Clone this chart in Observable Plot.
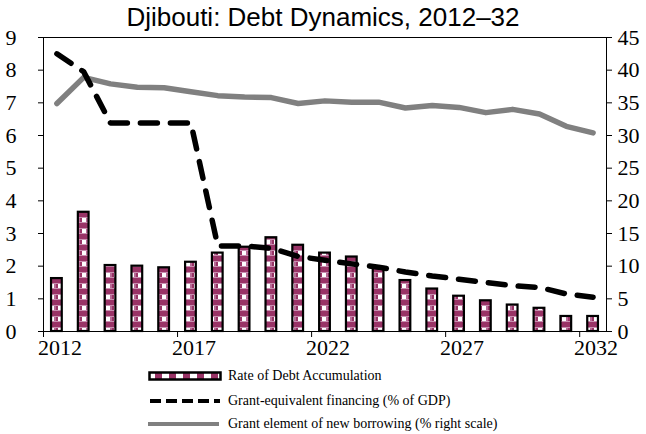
<!DOCTYPE html>
<html>
<head>
<meta charset="utf-8">
<script src="https://cdn.jsdelivr.net/npm/d3@7"></script>
<script src="https://cdn.jsdelivr.net/npm/@observablehq/plot@0.6"></script>
<style>
  html, body { margin: 0; padding: 0; background: #fff; }
  #wrap { position: relative; width: 646px; height: 434px; overflow: hidden; background: #fff; }
  #title { position: absolute; left: 0; top: 2px; width: 646px; text-align: center; z-index: 2;
    font-family: "Liberation Sans", Arial, sans-serif; font-size: 26px; line-height: 30px; color: #000; }
  #chart { position: absolute; left: 0; top: 14px; z-index: 1; }
  #chart svg { background: transparent !important; }
  #chart svg text { font-family: "Liberation Serif", "Times New Roman", serif !important; }
  .leg { position: absolute; left: 148px; font-family: "Liberation Serif", "Times New Roman", serif;
    font-size: 14px; color: #000; display: flex; align-items: center; height: 20px; }
  .leg svg { display: block; margin-right: 6px; }
</style>
</head>
<body>
<div id="wrap">
  <div id="chart"></div>
  <div id="title">Djibouti: Debt Dynamics, 2012–32</div>
  <div class="leg" style="top:366px">
    <svg width="74" height="12"><defs>
      <pattern id="legPat" patternUnits="userSpaceOnUse" width="14" height="12">
        <rect x="0" y="0" width="14" height="12" fill="#fff"/>
        <rect x="7" y="0" width="7" height="12" fill="#993366"/>
      </pattern></defs>
      <rect x="1.5" y="2.5" width="71" height="7" fill="url(#legPat)" stroke="#000" stroke-width="2.5"/>
    </svg>
    <span>Rate of Debt Accumulation</span>
  </div>
  <div class="leg" style="top:391px">
    <svg width="74" height="12"><line x1="2" x2="72" y1="6" y2="6" stroke="#000" stroke-width="4" stroke-dasharray="11,5"/></svg>
    <span>Grant-equivalent financing (% of GDP)</span>
  </div>
  <div class="leg" style="top:414px">
    <svg width="74" height="12"><line x1="0" x2="71" y1="6" y2="6" stroke="#808080" stroke-width="4"/></svg>
    <span>Grant element of new borrowing (% right scale)</span>
  </div>
</div>
<script>
// ---- data ----
const years = [2012,2013,2014,2015,2016,2017,2018,2019,2020,2021,2022,2023,2024,2025,2026,2027,2028,2029,2030,2031,2032];
const debtAccumulation = [1.62,3.65,2.02,2.00,1.95,2.12,2.40,2.58,2.87,2.64,2.40,2.28,1.96,1.56,1.30,1.08,0.94,0.81,0.71,0.46,0.46];
const grantEquivFinancing = [8.50,7.95,6.38,6.38,6.38,6.38,2.62,2.62,2.55,2.30,2.18,2.07,1.97,1.82,1.70,1.60,1.50,1.40,1.35,1.15,1.05];
const grantElement = [34.9,38.9,37.9,37.4,37.3,36.7,36.1,35.9,35.8,34.9,35.3,35.1,35.1,34.2,34.6,34.3,33.5,34.0,33.3,31.4,30.4];
const leftTicks = [0,1,2,3,4,5,6,7,8,9];
const rightScaleFactor = 5; // right axis 0–45 vs left 0–9
const xLabelYears = [2012,2017,2022,2027,2032];

const rows = years.map((y, i) => ({
  year: y,
  debt: debtAccumulation[i],
  gef: grantEquivFinancing[i],
  grant: grantElement[i]
}));
const boundaries = xLabelYears.map(y => y - 0.5);
const halfBar = 0.2;

const font = "Liberation Serif";

const chart = Plot.plot({
  width: 646,
  height: 347,
  marginLeft: 43,
  marginRight: 40,
  marginTop: 23,
  marginBottom: 30,
  style: { fontSize: "22px", color: "#000", background: "transparent" },
  x: { type: "linear", domain: [years[0] - 0.5, years[years.length - 1] + 0.5] },
  y: { domain: [0, 9] },
  marks: [
    Plot.rectY(rows, {
      x1: d => d.year - halfBar, x2: d => d.year + halfBar, y1: 0, y2: "debt",
      fill: "url(#barPat)", stroke: "#000", strokeWidth: 2.2
    }),
    Plot.line(rows, { x: "year", y: d => d.grant / rightScaleFactor, stroke: "#808080", strokeWidth: 5.5, strokeLinejoin: "round", strokeLinecap: "round" }),
    Plot.line(rows, { x: "year", y: "gef", stroke: "#000", strokeWidth: 5.5, strokeDasharray: "17,13", strokeLinecap: "round", strokeLinejoin: "round" }),
    Plot.frame({ stroke: "#000", strokeWidth: 1 }),
    Plot.axisY({ anchor: "left", ticks: leftTicks, tickSize: 5, tickPadding: 22, fontSize: 22, fontFamily: font, label: null, textAnchor: "end" }),
    Plot.axisY({ anchor: "right", ticks: leftTicks, tickFormat: d => String(d * rightScaleFactor), tickSize: 5, tickPadding: 6, fontSize: 22, fontFamily: font, label: null }),
    Plot.axisX({ ticks: xLabelYears, tickSize: 0, tickPadding: 8, tickFormat: d => String(d), fontSize: 22, fontFamily: font, label: null, dx: 3 }),
    Plot.axisX({ ticks: boundaries, tickSize: 6, tickFormat: () => "", label: null })
  ]
});

// pattern for bars
const svgNode = chart.tagName.toLowerCase() === "svg" ? chart : chart.querySelector("svg");
const svg = d3.select(svgNode);
svg.selectAll("text").style("font-family", "'Liberation Serif', 'Times New Roman', serif");
const defs = svg.insert("defs", ":first-child");
const pat = defs.append("pattern").attr("id", "barPat").attr("patternUnits", "userSpaceOnUse")
  .attr("width", 8).attr("height", 11);
pat.append("rect").attr("width", 8).attr("height", 11).attr("fill", "#fff");
pat.append("rect").attr("y", 0).attr("width", 8).attr("height", 5).attr("fill", "#993366");
pat.append("rect").attr("y", 5).attr("width", 8).attr("height", 1).attr("fill", "#c98fb0");
pat.append("rect").attr("y", 10).attr("width", 8).attr("height", 1).attr("fill", "#c98fb0");
pat.append("rect").attr("x", 0).attr("y", 6).attr("width", 2).attr("height", 4).attr("fill", "#993366");
pat.append("rect").attr("x", 6).attr("y", 6).attr("width", 2).attr("height", 4).attr("fill", "#b86a96");

document.getElementById("chart").appendChild(chart);
</script>
</body>
</html>
